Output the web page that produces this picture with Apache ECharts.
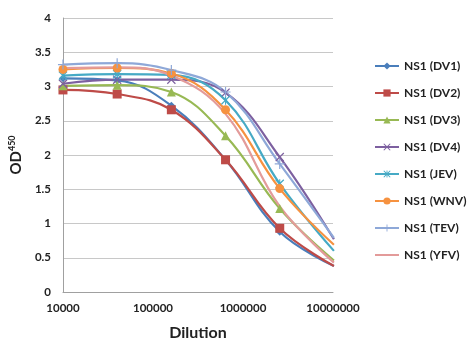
<!DOCTYPE html>
<html><head><meta charset="utf-8">
<script src="https://cdn.jsdelivr.net/npm/echarts@6/dist/echarts.min.js"></script>
<style>html,body{margin:0;padding:0;background:#fff}#c{width:467px;height:348px}</style>
</head><body><div id="c"></div>
<script>
const dilution = [10000, 40000, 160000, 640000, 2560000, 10240000];
const seriesNames = ['NS1 (DV1)','NS1 (DV2)','NS1 (DV3)','NS1 (DV4)','NS1 (JEV)','NS1 (WNV)','NS1 (TEV)','NS1 (YFV)'];
const DV1 = [3.12, 3.09, 2.72, 1.93, 0.88, 0.38];
const DV2 = [2.95, 2.89, 2.66, 1.93, 0.93, 0.38];
const DV3 = [3.01, 3.02, 2.92, 2.28, 1.22, 0.46];
const DV4 = [3.04, 3.10, 3.10, 2.91, 1.97, 0.77];
const JEV = [3.16, 3.18, 3.17, 2.80, 1.58, 0.60];
const WNV = [3.25, 3.27, 3.19, 2.66, 1.51, 0.69];
const TEV = [3.32, 3.34, 3.24, 2.92, 1.87, 0.79];
const YFV = [3.27, 3.28, 3.16, 2.60, 1.25, 0.43];
const yTicks = [0, 0.5, 1, 1.5, 2, 2.5, 3, 3.5, 4];

const values = [DV1, DV2, DV3, DV4, JEV, WNV, TEV, YFV];
const colors = ['#4A7EBB','#BE4B48','#98B954','#7D60A0','#46AAC5','#F69240','#8EA8D8','#E39B9A'];
const X = 'path://M0,1 L1,0 L5,4 L9,0 L10,1 L6,5 L10,9 L9,10 L5,6 L1,10 L0,9 L4,5 Z';
const PLUS = 'path://M4.4,0 H5.6 V4.4 H10 V5.6 H5.6 V10 H4.4 V5.6 H0 V4.4 H4.4 Z';
const AST = 'path://M0,1 L1,0 L5,4 L9,0 L10,1 L6,5 L10,9 L9,10 L5,6 L1,10 L0,9 L4,5 Z M4.4,0 H5.6 V10 H4.4 Z';
const DASH = 'path://M0,0 L10,0 L10,0 Z M0,4 H10 V6 H0 Z M0,10 L10,10 L10,10 Z';
const symbols = ['diamond','rect','triangle',X,AST,'circle',PLUS,DASH];
const showSym = [true,true,true,true,true,true,true,false];
const sizes = [8,9,9,9,9,9,10,9];
const font = 'Lato, "Open Sans", sans-serif';

const chart = echarts.init(document.getElementById('c'));
chart.setOption({
  animation: false,
  grid: {left: 60, right: 134, top: 18, bottom: 56},
  legend: {
    orient: 'vertical', left: 369, top: 55, itemGap: 15, itemWidth: 24, itemHeight: 9,
    textStyle: {fontFamily: font, fontWeight: 'bold', fontSize: 12, color: '#222'},
    data: seriesNames
  },
  xAxis: {
    type: 'log', logBase: 10, min: 10000, max: 10000000,
    axisLine: {show: true, lineStyle: {color: '#A0A0A0'}},
    axisTick: {show: false},
    splitLine: {show: false},
    minorTick: {show: false},
    axisLabel: {margin: 10, fontFamily: font, fontWeight: 'bold', fontSize: 11.5, color: '#222',
      formatter: v => String(Math.round(v))},
    name: 'Dilution', nameLocation: 'middle', nameGap: 33,
    nameTextStyle: {fontFamily: font, fontWeight: 'bold', fontSize: 16, color: '#222'}
  },
  yAxis: {
    type: 'value', min: 0, max: 4, interval: 0.5,
    axisLine: {show: true, lineStyle: {color: '#A0A0A0'}},
    axisTick: {show: false},
    splitLine: {lineStyle: {color: '#C8C8C8'}},
    axisLabel: {margin: 12, fontFamily: font, fontWeight: 'bold', fontSize: 11.5, color: '#222',
      formatter: v => yTicks.includes(v) ? String(v) : ''},
    name: 'OD{sup|450}', nameLocation: 'middle', nameGap: 32, nameRotate: 90,
    nameTextStyle: {fontFamily: font, fontWeight: 'bold', fontSize: 15, color: '#222',
      rich: {sup: {fontFamily: font, fontWeight: 'bold', fontSize: 9, color: '#222', padding: [0,0,8,0]}}}
  },
  series: seriesNames.map((n, i) => ({
    name: n, type: 'line', smooth: 0.4, clip: true,
    data: dilution.map((d, j) => [d, values[i][j]]),
    symbol: symbols[i], symbolSize: sizes[i], showSymbol: showSym[i],
    color: colors[i],
    lineStyle: {width: 2.2, color: colors[i]},
    itemStyle: {color: colors[i]}
  }))
});
</script></body></html>
